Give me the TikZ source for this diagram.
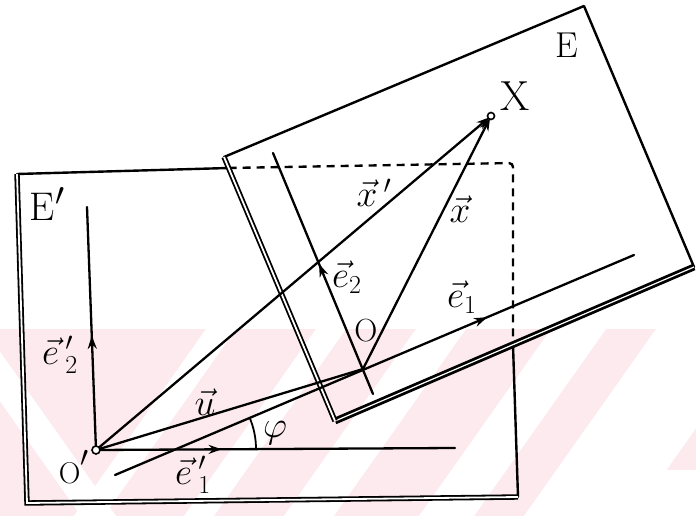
\documentclass[tikz,border=0pt]{standalone}
\usepackage{graphicx}
\usetikzlibrary{arrows.meta,decorations.markings}
\definecolor{wmpink}{RGB}{252,234,238}
\newcommand{\vlab}[1]{\scalebox{1.5}{$#1$}}
\begin{document}
\begin{tikzpicture}[x=1pt,y=-1pt,
  ln/.style={line width=2.3pt, line cap=round},
  edgeline/.style={line width=2.4pt, line join=round, line cap=round},
  dbl/.style={line width=1.8pt, double, double distance=1.8pt, line join=miter},
  heavy/.style={line width=2.8pt, double, double distance=1.2pt},
  hidden/.style={line width=2.4pt, dash pattern=on 8pt off 6pt, rounded corners=4pt},
  lbl/.style={inner sep=0pt, font=\fontsize{24}{28}\selectfont},
  midarrow/.style={postaction=decorate, decoration={markings, mark=at position #1 with {\arrow{Stealth[length=13pt,width=9pt]}}}},
  tipped/.style={-{Stealth[length=13pt,width=9pt]}, shorten >=2pt}
]
\useasboundingbox (0,0) rectangle (696,516);
\fill[white] (0,0) rectangle (696,516);
% watermark band
\begin{scope}
  \clip (0,329) rectangle (696,516);
  \fill[wmpink] (0,329) rectangle (696,516);
  \foreach \a/\b in {440/470, 550/580, 650/700, 785/840, 890/1000} {
    \fill[white] ({\a-234},329) -- ({\b-234},329) -- ({\b-366},516) -- ({\a-366},516) -- cycle;
  }
  \fill[white] ({-285+234},329) -- ({-250+234},329) -- ({-250+366},516) -- ({-285+366},516) -- cycle;
  \fill[white] ({265+334},470) -- ({400+334},470) -- ({400+366},516) -- ({265+366},516) -- cycle;
\end{scope}

% coordinates
\coordinate (Ptl) at (17,174);
\coordinate (Ptm) at (228.6,168);
\coordinate (Pdc) at (513,163);
\coordinate (Prm) at (513,345);
\coordinate (Pbr) at (518,497);
\coordinate (Pbl) at (27,503);
\coordinate (Etl) at (224,157);
\coordinate (Etr) at (584,6);
\coordinate (Ebr) at (694,267);
\coordinate (Ebl) at (335,421);
\coordinate (Op) at (96,450);
\coordinate (O) at (363,369);
\coordinate (X) at (491,116);
\coordinate (e1a) at (115,475);
\coordinate (e1b) at (634,255);
\coordinate (e2a) at (373,394);
\coordinate (e2b) at (273,153);
\coordinate (ep1b) at (455,448);
\coordinate (ep2b) at (87,207);
\coordinate (phiC) at (176,449);

% plane E'
\draw[edgeline] (Ptl) -- (Ptm);
\draw[hidden] (Ptm) -- (Pdc) -- (Prm);
\draw[edgeline] (Prm) -- (Pbr);
\draw[dbl] (Ptl) -- (Pbl) -- (Pbr);

% plane E
\draw[edgeline] (Etl) -- (Etr) -- (Ebr);
\draw[heavy] (Ebr) -- (Ebl);
\draw[dbl] (Ebl) -- (Etl);

% axes of E'
\draw[ln, midarrow=0.35] (Op) -- (ep1b);
\draw[ln, midarrow=0.47] (Op) -- (ep2b);
% axes of E
\draw[ln, midarrow=0.717] (e1a) -- (e1b);
\draw[ln, midarrow=0.54] (e2a) -- (e2b);
% vectors
\draw[ln] (Op) -- (O);
\draw[ln, tipped] (Op) -- (X);
\draw[ln, tipped] (O) -- (X);
% angle
\draw[line width=1.8pt] (phiC) ++(-23:80) arc[start angle=-23, end angle=0, radius=80];
% points
\draw[line width=1.6pt, fill=white] (Op) circle[radius=4];
\draw[line width=1.6pt, fill=white] (X) circle[radius=3.5];

% labels
\node[lbl, font=\fontsize{40}{44}\selectfont] (lEp) at (47,204) {E\kern1pt\raisebox{3pt}{\scalebox{1.3}{$'$}}};
\node[lbl, font=\fontsize{36}{40}\selectfont] (lE) at (567,45) {E};
\node[lbl, font=\fontsize{42}{46}\selectfont] (lX) at (515,96) {X};
\node[lbl, font=\fontsize{32}{36}\selectfont] (lO) at (366,331) {O};
\node[lbl, font=\fontsize{30}{34}\selectfont] (lOp) at (74,467) {O\raisebox{4pt}{\scalebox{1.4}{$'$}}};
\node[lbl] (le2p) at (60,355) {\vlab{\vec e\,'_2}};
\node[lbl] (le1p) at (193,475) {\vlab{\vec e\,'_1}};
\node[lbl] (lu) at (205,402) {\vlab{\vec u}};
\node[lbl] (lphi) at (275,433) {\vlab{\varphi}};
\node[lbl] (le2) at (347,277) {\vlab{\vec e_2}};
\node[lbl] (le1) at (462,297) {\vlab{\vec e_1}};
\node[lbl] (lxp) at (374,193) {\vlab{\vec x\,'}};
\node[lbl] (lx) at (460,209) {\vlab{\vec x}};
\end{tikzpicture}
\end{document}
